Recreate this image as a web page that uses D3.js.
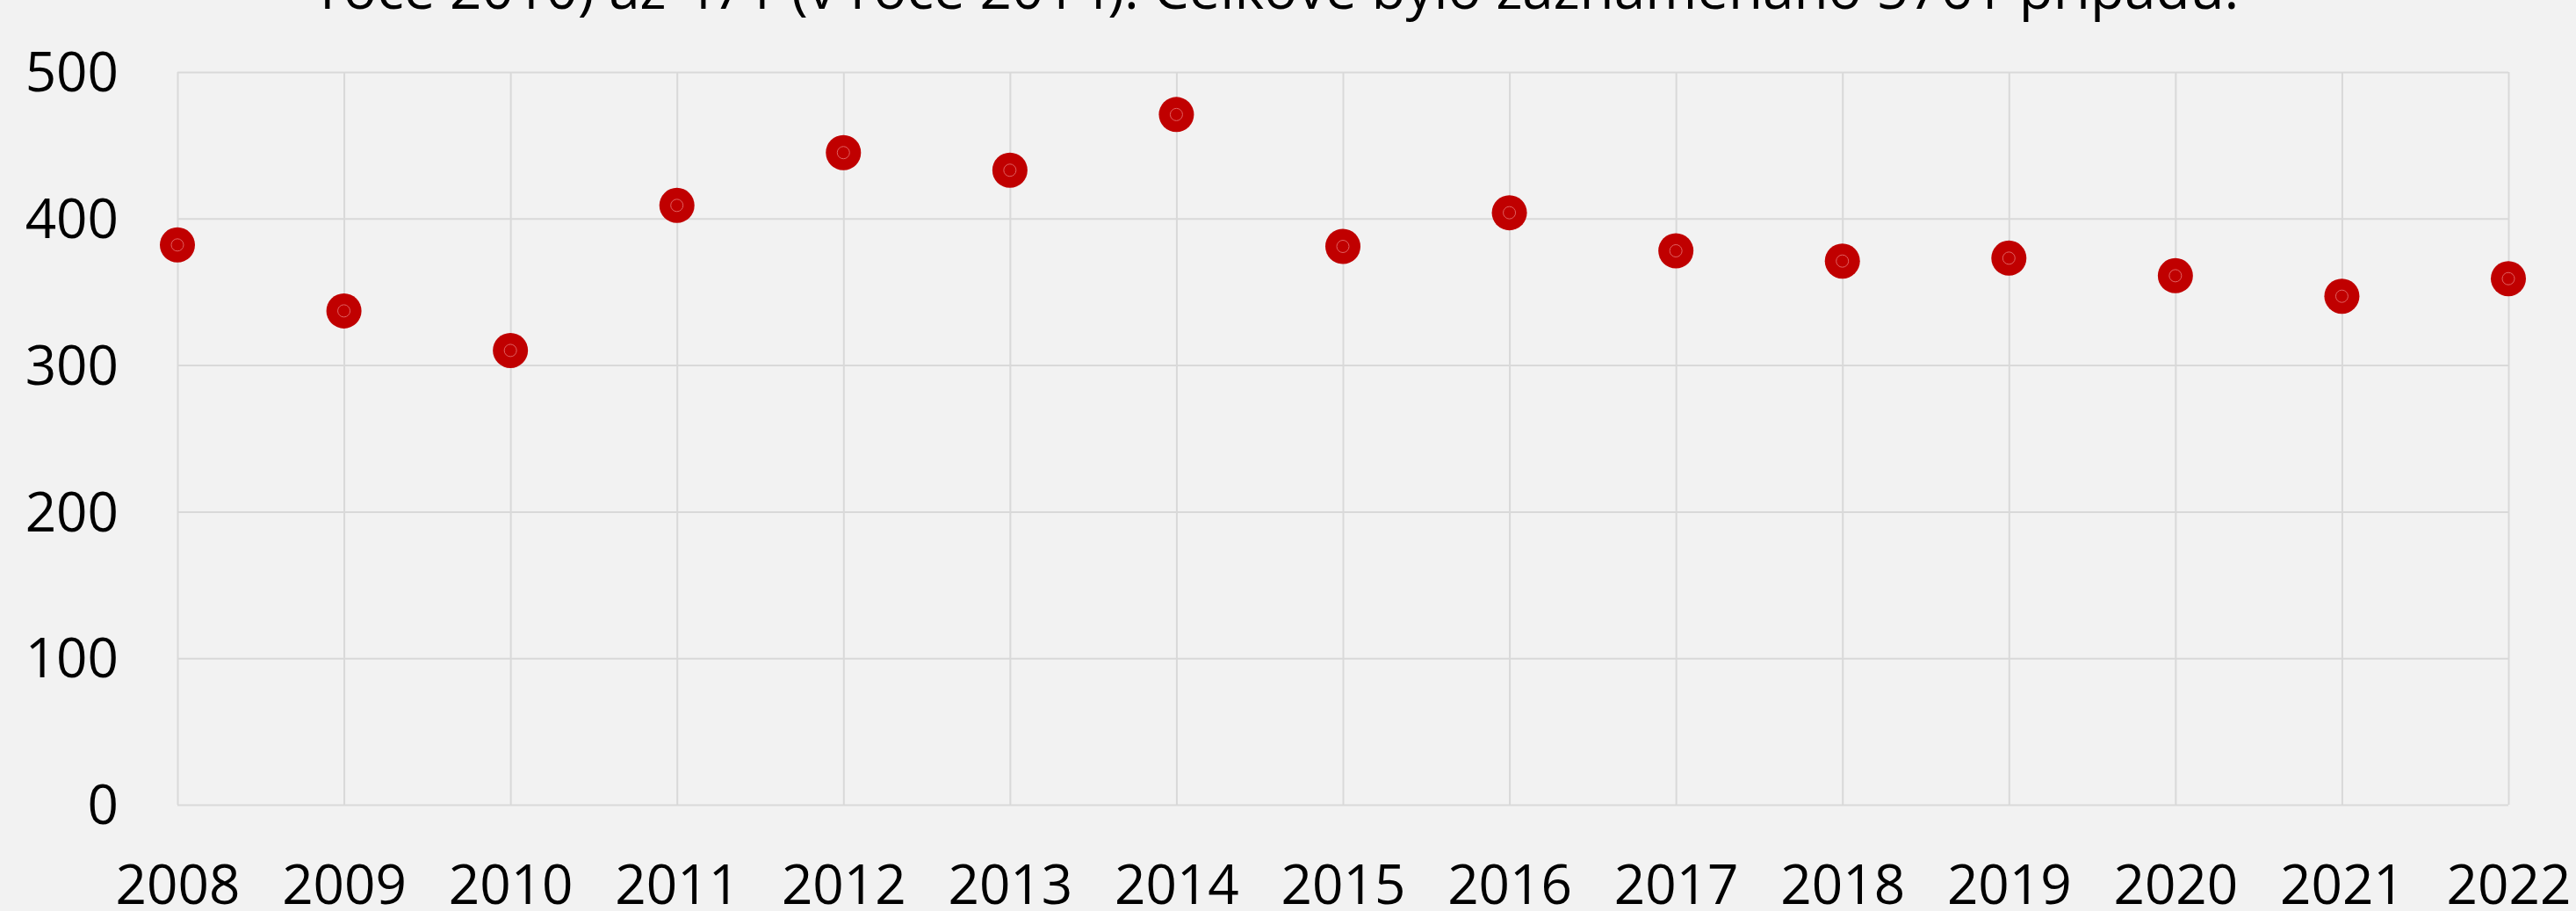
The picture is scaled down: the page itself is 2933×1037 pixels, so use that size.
<!DOCTYPE html>
<html>
<head>
<meta charset="utf-8">
<script src="https://cdn.jsdelivr.net/npm/d3@7"></script>
<style>
  html, body { margin: 0; padding: 0; background: #F2F2F2; }
  svg { display: block; }
</style>
</head>
<body>
<svg id="chart" width="2933" height="1037"></svg>
<script>
const years = [2008, 2009, 2010, 2011, 2012, 2013, 2014, 2015, 2016, 2017, 2018, 2019, 2020, 2021, 2022];
const cases = [382, 337, 310, 409, 445, 433, 471, 381, 404, 378, 371, 373, 361, 347, 359];
const yTicks = [0, 100, 200, 300, 400, 500];
const titleLine = "roce 2010) až 471 (v roce 2014). Celkově bylo zaznamenáno 5761 případů.";

const W = 2933, H = 1037;
const svg = d3.select("#chart");
svg.append("rect").attr("width", W).attr("height", H).attr("fill", "#F2F2F2");

const x = d3.scalePoint().domain(years).range([202, 2856]);
const y = d3.scaleLinear().domain([0, 500]).range([916, 82]);

const font = "'Open Sans', 'Noto Sans', sans-serif";
const grid = "#D9D9D9";

// horizontal gridlines
svg.append("g")
  .attr("transform", "translate(202,0)")
  .call(d3.axisLeft(y).tickValues(yTicks).tickSize(-(2856 - 202)).tickFormat(""))
  .call(g => g.select(".domain").remove())
  .call(g => g.selectAll(".tick line").attr("stroke", grid).attr("stroke-width", 2));

// vertical gridlines
svg.append("g")
  .attr("transform", "translate(0,82)")
  .call(d3.axisBottom(x).tickSize(916 - 82).tickFormat(""))
  .call(g => g.select(".domain").remove())
  .call(g => g.selectAll(".tick line").attr("stroke", grid).attr("stroke-width", 2));

// y labels
svg.append("g")
  .attr("transform", "translate(135,0)")
  .call(d3.axisLeft(y).tickValues(yTicks).tickSize(0).tickPadding(0))
  .call(g => g.select(".domain").remove())
  .call(g => g.selectAll("text")
    .attr("font-family", font).attr("font-size", 62).attr("fill", "#000")
    .attr("dy", "0.35em"));

// x labels
svg.append("g")
  .attr("transform", "translate(0,1007)")
  .call(d3.axisBottom(x).tickSize(0).tickPadding(0).tickFormat(d3.format("d")))
  .call(g => g.select(".domain").remove())
  .call(g => g.selectAll("text")
    .attr("font-family", font).attr("font-size", 62).attr("fill", "#000")
    .attr("dy", "0.35em"));

// markers
const pts = svg.append("g").selectAll("g").data(years.map((yr, i) => ({yr, v: cases[i]})))
  .join("g").attr("transform", d => `translate(${x(d.yr)},${y(d.v)})`);
pts.append("circle").attr("r", 20).attr("fill", "#C00000");
pts.append("circle").attr("r", 7).attr("fill", "none")
  .attr("stroke", "#E06060").attr("stroke-width", 1);

// title (last visible line, cut off at top)
const t = svg.append("text")
  .attr("x", 1457).attr("y", 10)
  .attr("text-anchor", "middle")
  .attr("font-family", font).attr("font-size", 62).attr("fill", "#000")
  .text(titleLine);
const targetW = 2185;
const len = t.node().getComputedTextLength();
t.attr("font-size", 62 * targetW / len);
</script>
</body>
</html>
